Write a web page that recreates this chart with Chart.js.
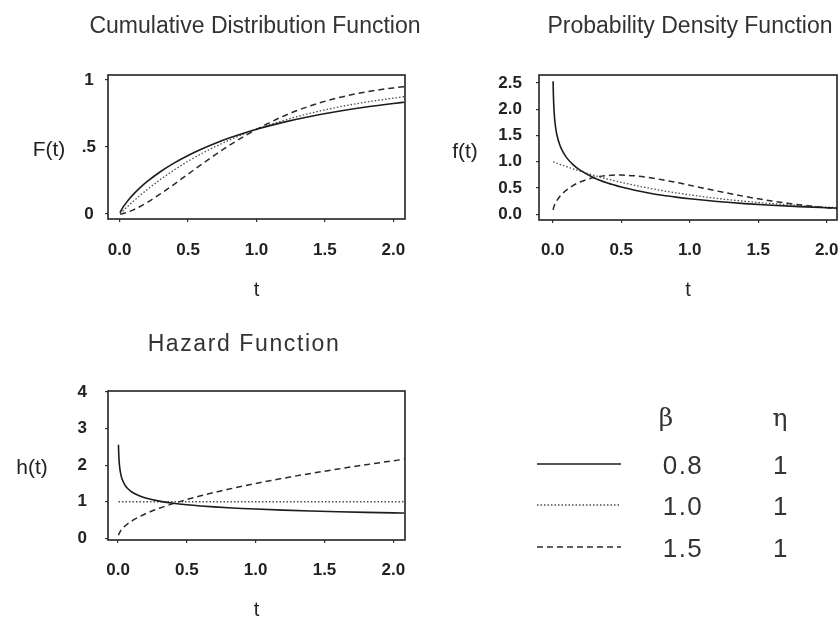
<!DOCTYPE html>
<html>
<head>
<meta charset="utf-8">
<script src="https://cdn.jsdelivr.net/npm/chart.js@4.4.0/dist/chart.umd.min.js"></script>
<style>
html, body { margin: 0; padding: 0; background: #fff; overflow: hidden; width: 839px; height: 619px; }
body { position: relative; font-family: "Liberation Sans", Arial, sans-serif; color: #222; }
canvas { position: absolute; }
.lbl { position: absolute; transform: translate(-50%, -50%); white-space: nowrap; line-height: 1; }
.title { font-size: 23px; color: #333; }
.ylab { font-size: 21px; color: #222; }
.greek { font-family: "DejaVu Serif", "Liberation Serif", serif; font-size: 25px; color: #333; }
.legnum { font-size: 26px; letter-spacing: 1.5px; color: #333; }
#legendLines { position: absolute; left: 0; top: 0; }
</style>
</head>
<body>

<canvas id="cdfChart" width="420" height="310" style="left:0;top:0;width:420px;height:310px"></canvas>
<canvas id="pdfChart" width="419" height="310" style="left:420px;top:0;width:419px;height:310px"></canvas>
<canvas id="hazChart" width="420" height="310" style="left:0;top:320px;width:420px;height:310px"></canvas>

<div class="lbl title" style="left:255px;top:25px">Cumulative Distribution Function</div>
<div class="lbl title" style="left:690px;top:25px">Probability Density Function</div>
<div class="lbl title" style="left:244px;top:343px;letter-spacing:1.6px">Hazard Function</div>

<div class="lbl ylab" style="left:49px;top:148px">F(t)</div>
<div class="lbl ylab" style="left:465px;top:150px">f(t)</div>
<div class="lbl ylab" style="left:32px;top:466px">h(t)</div>

<svg id="legendLines" width="839" height="619"></svg>
<div id="legend"></div>

<script>
// time grid the curves were read at
const tValues = [0.003, 0.005, 0.01, 0.02, 0.03, 0.05, 0.07, 0.1, 0.15, 0.2, 0.3, 0.4,
                 0.5, 0.6, 0.7, 0.8, 0.9, 1.0, 1.2, 1.4, 1.6, 1.8, 2.0, 2.08];

// F(t)
const cdfBeta08 = [0.0095, 0.0143, 0.0248, 0.0428, 0.0587, 0.0870, 0.1123, 0.1466, 0.1968, 0.2412, 0.3173, 0.3815,
                   0.4369, 0.4854, 0.5285, 0.5668, 0.6012, 0.6321, 0.6856, 0.7299, 0.7670, 0.7982, 0.8247, 0.8342];
const cdfBeta10 = [0.0030, 0.0050, 0.0100, 0.0198, 0.0296, 0.0488, 0.0676, 0.0952, 0.1393, 0.1813, 0.2592, 0.3297,
                   0.3935, 0.4512, 0.5034, 0.5507, 0.5934, 0.6321, 0.6988, 0.7534, 0.7981, 0.8347, 0.8647, 0.8751];
const cdfBeta15 = [0.0002, 0.0004, 0.0010, 0.0028, 0.0052, 0.0111, 0.0184, 0.0311, 0.0564, 0.0855, 0.1515, 0.2235,
                   0.2978, 0.3717, 0.4433, 0.5111, 0.5742, 0.6321, 0.7314, 0.8092, 0.8679, 0.9106, 0.9409, 0.9502];

// f(t)
const pdfBeta08 = [2.531, 2.275, 1.960, 1.675, 1.518, 1.330, 1.209, 1.082, 0.939, 0.838, 0.695, 0.594,
                   0.518, 0.456, 0.405, 0.362, 0.326, 0.294, 0.243, 0.202, 0.170, 0.144, 0.122, 0.115];
const pdfBeta10 = [0.997, 0.995, 0.990, 0.980, 0.970, 0.951, 0.932, 0.905, 0.861, 0.819, 0.741, 0.670,
                   0.607, 0.549, 0.497, 0.449, 0.407, 0.368, 0.301, 0.247, 0.202, 0.165, 0.135, 0.125];
const pdfBeta15 = [0.082, 0.106, 0.150, 0.212, 0.259, 0.332, 0.390, 0.460, 0.548, 0.614, 0.697, 0.737,
                   0.745, 0.730, 0.699, 0.656, 0.606, 0.552, 0.441, 0.339, 0.251, 0.180, 0.125, 0.108];

// h(t)
const hazBeta08 = [2.557, 2.308, 2.010, 1.750, 1.613, 1.457, 1.362, 1.268, 1.169, 1.104, 1.018, 0.961,
                   0.919, 0.886, 0.859, 0.836, 0.817, 0.800, 0.771, 0.748, 0.728, 0.711, 0.696, 0.691];
const hazBeta10 = [1, 1, 1, 1, 1, 1, 1, 1, 1, 1, 1, 1,
                   1, 1, 1, 1, 1, 1, 1, 1, 1, 1, 1, 1];
const hazBeta15 = [0.082, 0.106, 0.150, 0.212, 0.260, 0.335, 0.397, 0.474, 0.581, 0.671, 0.822, 0.949,
                   1.061, 1.162, 1.255, 1.342, 1.423, 1.500, 1.643, 1.775, 1.897, 2.012, 2.121, 2.163];

// ticks
const xTicks = [0, 0.5, 1, 1.5, 2];
const cdfYTicks = [0, 0.5, 1];
const cdfYLabels = ['0', '.5', '1'];
const pdfYTicks = [0, 0.5, 1, 1.5, 2, 2.5];
const hazYTicks = [0, 1, 2, 3, 4];

// legend table
const legendBetas = ['0.8', '1.0', '1.5'];
const legendEtas = ['1', '1', '1'];

const FONT = '"Liberation Sans", Arial, sans-serif';

const lineStyles = [
    { borderColor: '#1c1c1c', borderWidth: 1.6, borderDash: [] },
    { borderColor: '#4a4a4a', borderWidth: 1.3, borderDash: [1.5, 2] },
    { borderColor: '#2a2a2a', borderWidth: 1.5, borderDash: [6, 4] }
];

// box round the plot area
const framePlugin = {
    id: 'frame',
    afterDraw(chart) {
        const { ctx, chartArea: a } = chart;
        ctx.save();
        ctx.strokeStyle = '#222';
        ctx.lineWidth = 1.6;
        ctx.strokeRect(a.left, a.top, a.right - a.left, a.bottom - a.top);
        ctx.restore();
    }
};

function drawPanel(canvasId, series, cfg) {
    const el = document.getElementById(canvasId);
    return new Chart(el, {
        type: 'line',
        data: {
            datasets: series.map((vals, i) => ({
                data: tValues.map((t, k) => ({ x: t, y: vals[k] })),
                ...lineStyles[i],
                pointRadius: 0,
                fill: false,
                cubicInterpolationMode: 'monotone'
            }))
        },
        options: {
            responsive: false,
            animation: false,
            events: [],
            layout: { padding: { top: cfg.top, right: cfg.right, left: 0, bottom: 0 } },
            plugins: { legend: { display: false }, tooltip: { enabled: false } },
            scales: {
                x: {
                    type: 'linear',
                    min: cfg.xMin,
                    max: cfg.xMax,
                    afterBuildTicks: s => { s.ticks = xTicks.map(v => ({ value: v })); },
                    afterFit: s => {
                        s.height = cfg.xHeight;
                        // keep the plot box where the reference has it
                        s.paddingLeft = 0;
                        s.paddingRight = 0;
                    },
                    grid: { drawOnChartArea: false, drawTicks: true, tickLength: 3, color: '#333', lineWidth: 1.2 },
                    border: { display: false },
                    ticks: {
                        padding: cfg.xPad, color: '#222', autoSkip: false, maxRotation: 0,
                        font: { family: FONT, size: 17, weight: 'bold' },
                        callback: v => v.toFixed(1)
                    },
                    title: {
                        display: true, text: 't', color: '#222',
                        font: { family: FONT, size: 20 },
                        padding: { top: 0, bottom: 8 }
                    }
                },
                y: {
                    type: 'linear',
                    min: cfg.yMin,
                    max: cfg.yMax,
                    afterBuildTicks: s => { s.ticks = cfg.yTicks.map(v => ({ value: v })); },
                    afterFit: s => {
                        s.width = cfg.yWidth;
                        s.paddingTop = 0;
                        s.paddingBottom = 0;
                    },
                    grid: { drawOnChartArea: false, drawTicks: true, tickLength: 3, color: '#333', lineWidth: 1.2 },
                    border: { display: false },
                    ticks: {
                        padding: cfg.yPad, color: '#222', autoSkip: false,
                        crossAlign: cfg.crossAlign || 'near',
                        font: { family: FONT, size: 17, weight: 'bold' },
                        callback: cfg.yFormat
                    }
                }
            }
        },
        plugins: [framePlugin]
    });
}

drawPanel('cdfChart', [cdfBeta08, cdfBeta10, cdfBeta15], {
    top: 75, right: 15, xHeight: 91, yWidth: 108,
    xMin: -0.085, xMax: 2.085, yMin: -0.037, yMax: 1.037,
    xPad: 18, yPad: 9, crossAlign: 'center',
    yTicks: cdfYTicks,
    yFormat: v => cdfYLabels[cdfYTicks.indexOf(v)]
});

drawPanel('pdfChart', [pdfBeta08, pdfBeta10, pdfBeta15], {
    top: 75, right: 2, xHeight: 90, yWidth: 119,
    xMin: -0.1, xMax: 2.075, yMin: -0.11, yMax: 2.65,
    xPad: 17, yPad: 14,
    yTicks: pdfYTicks,
    yFormat: v => v.toFixed(1)
});

drawPanel('hazChart', [hazBeta08, hazBeta10, hazBeta15], {
    top: 71, right: 15, xHeight: 90, yWidth: 108,
    xMin: -0.073, xMax: 2.085, yMin: -0.046, yMax: 4.03,
    xPad: 17, yPad: 18,
    yTicks: hazYTicks,
    yFormat: v => String(v)
});

// legend table: line sample, beta, eta
function renderLegend() {
    const svg = document.getElementById('legendLines');
    const box = document.getElementById('legend');
    const rowY = [464, 505, 547];
    const dashes = ['', '1.5 2', '6 4'];
    let lines = '';
    let html = '<div class="lbl greek" style="left:666px;top:417px">\u03B2</div>' +
               '<div class="lbl greek" style="left:780px;top:417px">\u03B7</div>';
    legendBetas.forEach((b, i) => {
        const st = lineStyles[i];
        lines += `<line x1="537" x2="621" y1="${rowY[i]}" y2="${rowY[i]}" stroke="${st.borderColor}"
                   stroke-width="${st.borderWidth}" ${dashes[i] ? `stroke-dasharray="${dashes[i]}"` : ''}/>`;
        html += `<div class="lbl legnum" style="left:683px;top:${rowY[i] + 1}px">${b}</div>`;
        html += `<div class="lbl legnum" style="left:781px;top:${rowY[i] + 1}px">${legendEtas[i]}</div>`;
    });
    svg.innerHTML = lines;
    box.innerHTML = html;
}

renderLegend();
</script>
</body>
</html>
